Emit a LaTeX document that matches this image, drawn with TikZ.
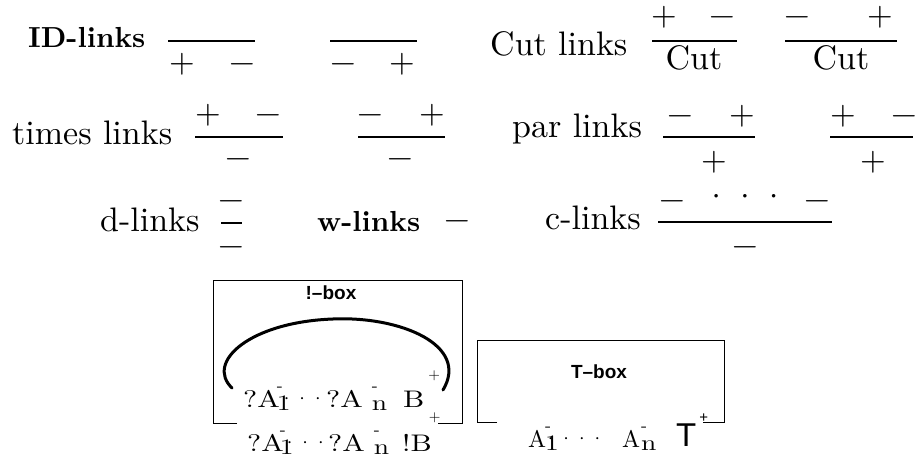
\documentclass[tikz,border=0pt]{standalone}
\usepackage{fontspec}
\usepackage{graphicx}
\setmainfont{lmroman10-regular.otf}[BoldFont=lmroman10-bold.otf]
\newfontfamily\boxfont{Liberation Sans}

\newcommand{\wide}[1]{\scalebox{1.25}[1]{#1}}
\newcommand{\lsub}[3]{\kern#1\rlap{\raisebox{16pt}{\fontsize{18}{18}\selectfont #2}}\raisebox{-3pt}{\wide{\fontsize{22}{22}\selectfont #3}}}
\newcommand{\lsup}[2]{\kern#1\raisebox{#2}{\fontsize{15}{15}\selectfont +}}

\begin{document}
\begin{tikzpicture}[x=1pt,y=1pt,yscale=-1,xscale=1,
  lbl/.style={anchor=base west,inner sep=0pt,font=\fontsize{34}{40}\selectfont},
  blbl/.style={lbl,font=\fontsize{29}{34}\selectfont\bfseries},
  sgn/.style={inner sep=0pt,text height=19pt,text depth=3pt,font=\fontsize{33}{36}\selectfont},
  linkbar/.style={line width=1.1pt},
  boxedge/.style={line width=1pt},
  ttl/.style={inner sep=0pt,font=\fontsize{19}{22}\boxfont\bfseries},
  lit/.style={anchor=base west,inner sep=0pt,font=\fontsize{24}{28}\selectfont},
  dotrow/.style={inner sep=0pt,font=\fontsize{20}{24}\selectfont}]
\useasboundingbox (0,0) rectangle (915,454);

% ID links
\node[blbl] (idl) at (28,48) {ID-links};
\draw[linkbar] (168,41) -- (255,41);
\node[sgn] (id1p) at (182,65) {+};
\node[sgn] (id1m) at (242,65) {−};
\draw[linkbar] (330,41) -- (417,41);
\node[sgn] (id2m) at (343,65) {−};
\node[sgn] (id2p) at (402,65) {+};

% Cut links
\node[lbl] (cutl) at (490,56) {Cut links};
\draw[linkbar] (652,41) -- (737,41);
\node[sgn] (cut1p) at (664,18) {+};
\node[sgn] (cut1m) at (722,18) {−};
\node[lbl,anchor=base] (cut1) at (694,70) {Cut};
\draw[linkbar] (785,41) -- (897,41);
\node[sgn] (cut2m) at (797,18) {−};
\node[sgn] (cut2p) at (880,18) {+};
\node[lbl,anchor=base] (cut2) at (841,70) {Cut};

% times links
\node[lbl] (tml) at (12,145) {times links};
\draw[linkbar] (195,137) -- (283,137);
\node[sgn] (tm1p) at (208,116) {+};
\node[sgn] (tm1m) at (268,116) {−};
\node[sgn] (tm1c) at (238,160) {−};
\draw[linkbar] (358,137) -- (445,137);
\node[sgn] (tm2m) at (370,116) {−};
\node[sgn] (tm2p) at (432,116) {+};
\node[sgn] (tm2c) at (400,160) {−};

% par links
\node[lbl] (parl) at (512,138) {par links};
\draw[linkbar] (663,137) -- (755,137);
\node[sgn] (par1m) at (680,117) {−};
\node[sgn] (par1p) at (742,117) {+};
\node[sgn] (par1c) at (714,163) {+};
\draw[linkbar] (830,137) -- (913,137);
\node[sgn] (par2p) at (843,117) {+};
\node[sgn] (par2m) at (904,117) {−};
\node[sgn] (par2c) at (873,163) {+};

% d, w and c links
\node[lbl] (dl) at (100,232) {d-links};
\node[sgn] (dup) at (231,202) {−};
\draw[linkbar] (221,223) -- (242,223);
\node[sgn] (ddn) at (231,247) {−};
\node[blbl] (wl) at (317,232) {w-links};
\node[sgn] (wm) at (457,222) {−};
\node[lbl] (cl) at (545,230) {c-links};
\draw[linkbar] (658,222) -- (832,222);
\node[sgn] (c1m) at (672,202) {−};
\node[sgn] (cdots) at (745,200) {·\kern3pt·\kern3pt·};
\node[sgn] (c2m) at (817,202) {−};
\node[sgn] (ccon) at (745,247) {−};

%Shape: !-box
\draw[boxedge] (237,423) -- (213,423) -- (213,280) -- (462,280) -- (462,423) -- (438,423);
\node[ttl] (bangttl) at (331,293) {!–box};
%Curve Lines
\draw[line width=3pt,line cap=round] (232,388) .. controls (205,362) and (250,322) .. (333,319) .. controls (400,316) and (470,345) .. (443,390);
% Text Node
\node[lit] (qa1i) at (243,407) {\wide{?A}\lsub{-3pt}{-}{1}};
\node[dotrow] (dti) at (310,402) {····};
\node[lit] (qani) at (326,407) {\wide{?A}\lsub{9pt}{-}{n}};
\node[lit] (bi) at (403,407) {\wide{B}\lsup{4pt}{28pt}};
% Text Node
\node[lit] (qa1o) at (247,451) {\wide{?A}\lsub{-4pt}{-}{1}};
\node[dotrow] (dto) at (313,446) {····};
\node[lit] (qano) at (328,451) {\wide{?A}\lsub{9pt}{-}{n}};
\node[lit] (bo) at (402,451) {\wide{!B}\lsup{-3pt}{30pt}};

%Shape: T-box
\draw[boxedge] (497,422) -- (477,422) -- (477,340) -- (724,340) -- (724,422) -- (703,422);
\node[ttl] (tttl) at (599,372) {T–box};
% Text Node
\node[lit] (a1t) at (528,447) {A\lsub{-1pt}{-}{1}};
\node[dotrow] (dtt) at (574,442) {····};
\node[lit] (ant) at (622,447) {A\lsub{1pt}{-}{n}};
\node[lit,font=\fontsize{33}{36}\boxfont] (tt) at (676,446) {T\lsup{3pt}{24pt}};

\end{tikzpicture}
\end{document}
